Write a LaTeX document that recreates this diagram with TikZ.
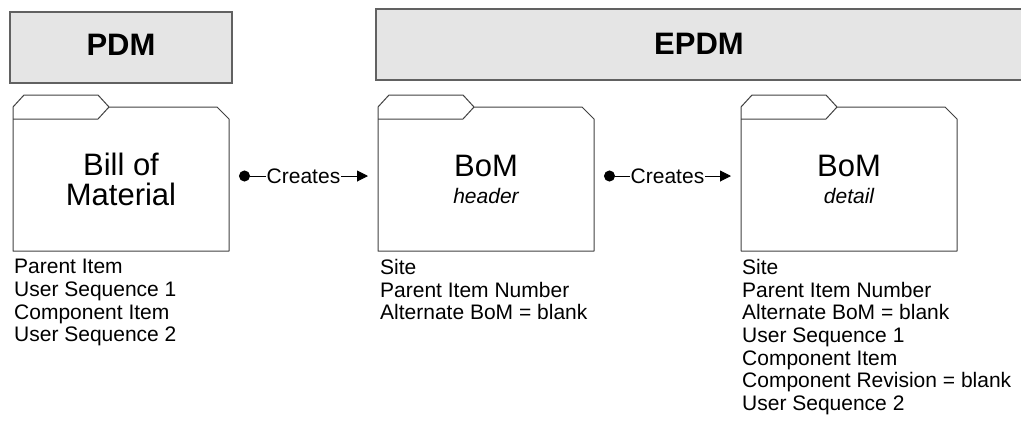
\documentclass[tikz,border=0pt]{standalone}
\usepackage{fontspec}
\setmainfont{Liberation Sans}
\usetikzlibrary{arrows.meta}
\usetikzlibrary{positioning}

\begin{document}
\begin{tikzpicture}[x=1pt,y=-1pt,
	hdrbox/.style={draw=black!62,line width=1.3pt,fill=black!10,minimum height=71pt,inner sep=0pt,outer sep=0pt},
	hdrtext/.style={inner sep=0pt,font=\fontsize{31}{31}\selectfont\bfseries},
	folder/.style={minimum width=216pt,minimum height=144pt,inner sep=0pt,outer sep=0pt,align=center,font=\fontsize{31}{30}\selectfont},
	fields/.style={align=left,inner sep=0pt,font=\fontsize{21}{22.7}\selectfont},
	creates/.style={line width=1pt,{Circle[length=11pt]}-{Triangle[length=11pt,width=11pt]},shorten <=10pt,shorten >=10pt},
	verb/.style={fill=white,inner xsep=1pt,inner ysep=2pt,font=\fontsize{21}{22.7}\selectfont}]

	\useasboundingbox (0,0) rectangle (1021,432);

	\node [hdrbox,minimum width=222pt] (pdm) at (121,47.5) {};
	\node [hdrbox,minimum width=700pt] (epdm) at (726,44.5) {};
	\node [hdrtext] (pdmtext) at (121,45) {PDM};
	\node [hdrtext] (epdmtext) at (699,44) {EPDM};

	\node [folder] (pdmbom) at (121,179) {Bill of\\Material};
	\node [folder] (hdr) at (486,179) {BoM\\[-3pt]{\fontsize{21}{24}\selectfont\itshape header}};
	\node [folder] (dtl) at (849,179) {BoM\\[-3pt]{\fontsize{21}{24}\selectfont\itshape detail}};

	\foreach \f in {pdmbom,hdr,dtl}
	{
		\draw [line width=1pt,black!75,line join=round] (\f.north west) -- ++(11,-12) -- ++(74,0) -- ++(11,12) -- ++(108,0) -- ++(12,12) -- (\f.south east) -- (\f.south west) -- cycle;
		\draw [line width=1pt,black!75] (\f.north west) ++(0,12) -- ++(85,0) -- ++(11,-12);
	}

	\node [fields,below right=8pt and 1pt of pdmbom.south west] (pdmlist) {Parent Item\\User Sequence 1\\Component Item\\User Sequence 2};
	\node [fields,below right=8pt and 2pt of hdr.south west] (hdrlist) {Site\\Parent Item Number\\Alternate BoM = blank};
	\node [fields,below right=8pt and 1pt of dtl.south west] (dtllist) {Site\\Parent Item Number\\Alternate BoM = blank\\User Sequence 1\\Component Item\\Component Revision = blank\\User Sequence 2};

	\draw [creates] ([yshift=3pt]pdmbom.east) -- node [verb] {Creates} ([yshift=3pt]hdr.west);
	\draw [creates] ([yshift=3pt]hdr.east) -- node [verb] {Creates} ([yshift=3pt]dtl.west);

\end{tikzpicture}
\end{document}
